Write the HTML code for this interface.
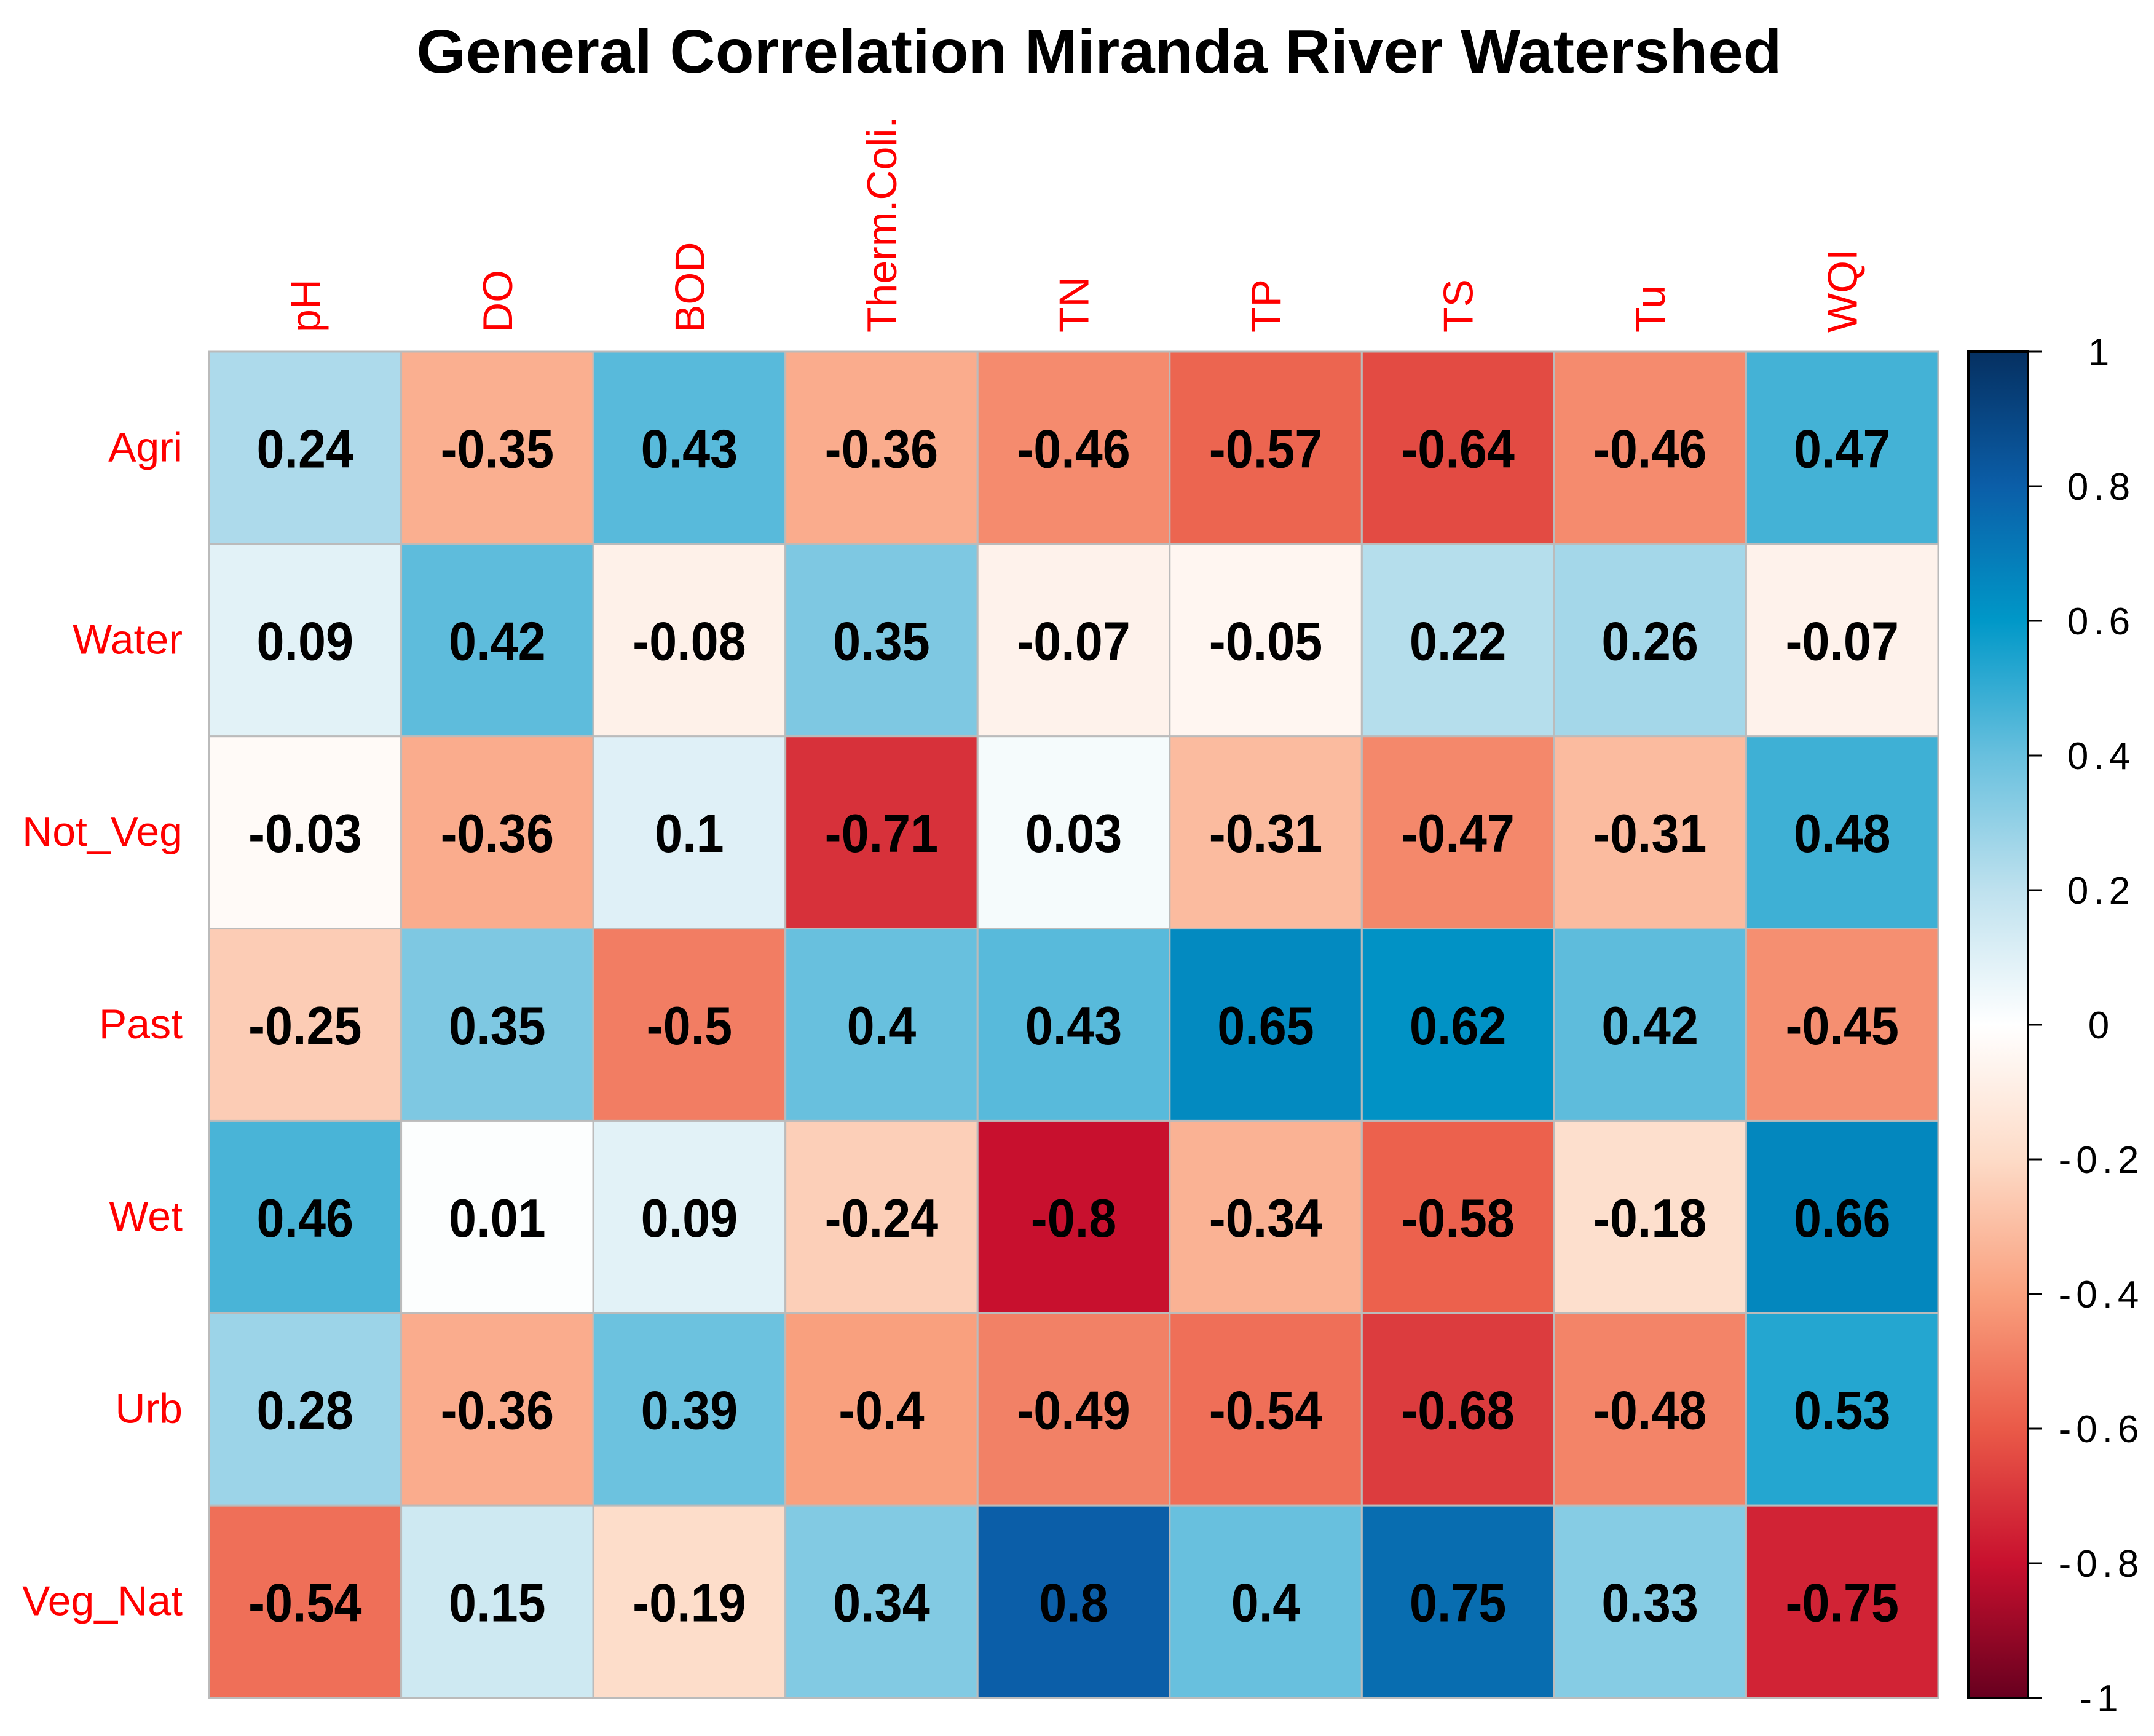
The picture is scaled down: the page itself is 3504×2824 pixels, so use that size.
<!DOCTYPE html>
<html><head><meta charset="utf-8"><style>
html,body{margin:0;padding:0;background:#fff;}
svg{display:block;font-family:"Liberation Sans",Arial,sans-serif;}
</style></head><body>
<svg id="chart" width="3504" height="2824" viewBox="0 0 3504 2824" xmlns="http://www.w3.org/2000/svg">
<text x="1788" y="118" text-anchor="middle" font-size="100" font-weight="bold" textLength="2221" lengthAdjust="spacingAndGlyphs">General Correlation Miranda River Watershed</text>
<g id="cells"></g>
<g id="labels"></g>
<g id="legend"></g>
</svg>
<script>
const colLabels = ["pH","DO","BOD","Therm.Coli.","TN","TP","TS","Tu","WQI"];
const rowLabels = ["Agri","Water","Not_Veg","Past","Wet","Urb","Veg_Nat"];
const rowAgri   = [0.24,-0.35,0.43,-0.36,-0.46,-0.57,-0.64,-0.46,0.47];
const rowWater  = [0.09,0.42,-0.08,0.35,-0.07,-0.05,0.22,0.26,-0.07];
const rowNotVeg = [-0.03,-0.36,0.1,-0.71,0.03,-0.31,-0.47,-0.31,0.48];
const rowPast   = [-0.25,0.35,-0.5,0.4,0.43,0.65,0.62,0.42,-0.45];
const rowWet    = [0.46,0.01,0.09,-0.24,-0.8,-0.34,-0.58,-0.18,0.66];
const rowUrb    = [0.28,-0.36,0.39,-0.4,-0.49,-0.54,-0.68,-0.48,0.53];
const rowVegNat = [-0.54,0.15,-0.19,0.34,0.8,0.4,0.75,0.33,-0.75];
const matrix = [rowAgri,rowWater,rowNotVeg,rowPast,rowWet,rowUrb,rowVegNat];
const legendTicks = [1,0.8,0.6,0.4,0.2,0,-0.2,-0.4,-0.6,-0.8,-1];

const NS="http://www.w3.org/2000/svg";
const gx0=340,gx1=3153,gy0=572,gy1=2762;
const cw=(gx1-gx0)/colLabels.length, ch=(gy1-gy0)/rowLabels.length;
const xPos=i=>gx0+i*cw, yPos=j=>gy0+j*ch;
const ly=v=>gy0+(1-v)/2*(gy1-gy0);
const stops=[[-1,[103,0,31]],[-0.8,[200,16,46]],[-0.6,[234,90,72]],[-0.4,[249,160,126]],[-0.2,[253,219,199]],[0,[255,255,255]],[0.2,[190,225,238]],[0.4,[104,192,222]],[0.6,[0,152,200]],[0.8,[11,94,168]],[1,[5,48,97]]];
function color(v){for(let k=0;k<stops.length-1;k++){const a=stops[k],b=stops[k+1];if(v<=b[0]){const t=(v-a[0])/(b[0]-a[0]);const c=a[1].map((x,i)=>Math.round(x+(b[1][i]-x)*t));return `rgb(${c.join(',')})`;}}return 'rgb(5,48,97)';}
function mk(tag,attrs,parent){const e=document.createElementNS(NS,tag);for(const k in attrs)e.setAttribute(k,attrs[k]);parent.appendChild(e);return e;}

const cells=document.getElementById('cells');
matrix.forEach((row,j)=>row.forEach((v,i)=>{
  const r=mk('rect',{x:xPos(i),y:yPos(j),width:cw,height:ch,fill:color(v),stroke:'#bbbbbb','stroke-width':3},cells);
  
  
  const cx=xPos(i)+cw/2, cy=yPos(j)+ch/2+32;
  const t=mk('text',{x:0,y:0,transform:`translate(${cx} ${cy}) scale(0.92 1)`,'text-anchor':'middle','font-size':88,'font-weight':'bold',fill:'#000'},cells);
  
  
  t.textContent=String(v);
}));
const labels=document.getElementById('labels');
colLabels.forEach((c,i)=>{
  const x=xPos(i)+cw/2+24;
  const t=mk('text',{x:x,y:541,transform:`rotate(-90 ${x} 541)`,'font-size':68,fill:'#ff0000'},labels);
  
  
  t.textContent=c;
});
rowLabels.forEach((r,j)=>{
  const t=mk('text',{x:297,y:yPos(j)+ch/2+22,'text-anchor':'end','font-size':68,fill:'#ff0000'},labels);
  
  
  t.textContent=r;
});
const legend=document.getElementById('legend');
const defs=mk('defs',{},legend);
const grad=mk('linearGradient',{id:'lg',x1:0,y1:1,x2:0,y2:0},defs);
stops.forEach(s=>mk('stop',{offset:(s[0]+1)/2,'stop-color':color(s[0])},grad));
const bar=mk('rect',{x:3202,y:gy0,width:97,height:gy1-gy0,fill:'url(#lg)',stroke:'#000','stroke-width':4},legend);


legendTicks.forEach(v=>{
  const l=mk('line',{x1:3299,x2:3322,y1:ly(v),y2:ly(v),stroke:'#000','stroke-width':3},legend);
  
  
  const t=mk('text',{x:3418,y:ly(v)+22,'text-anchor':'middle','font-size':62,'letter-spacing':8,fill:'#000'},legend);
  
  
  t.textContent=String(v);
});
</script>
</body></html>
